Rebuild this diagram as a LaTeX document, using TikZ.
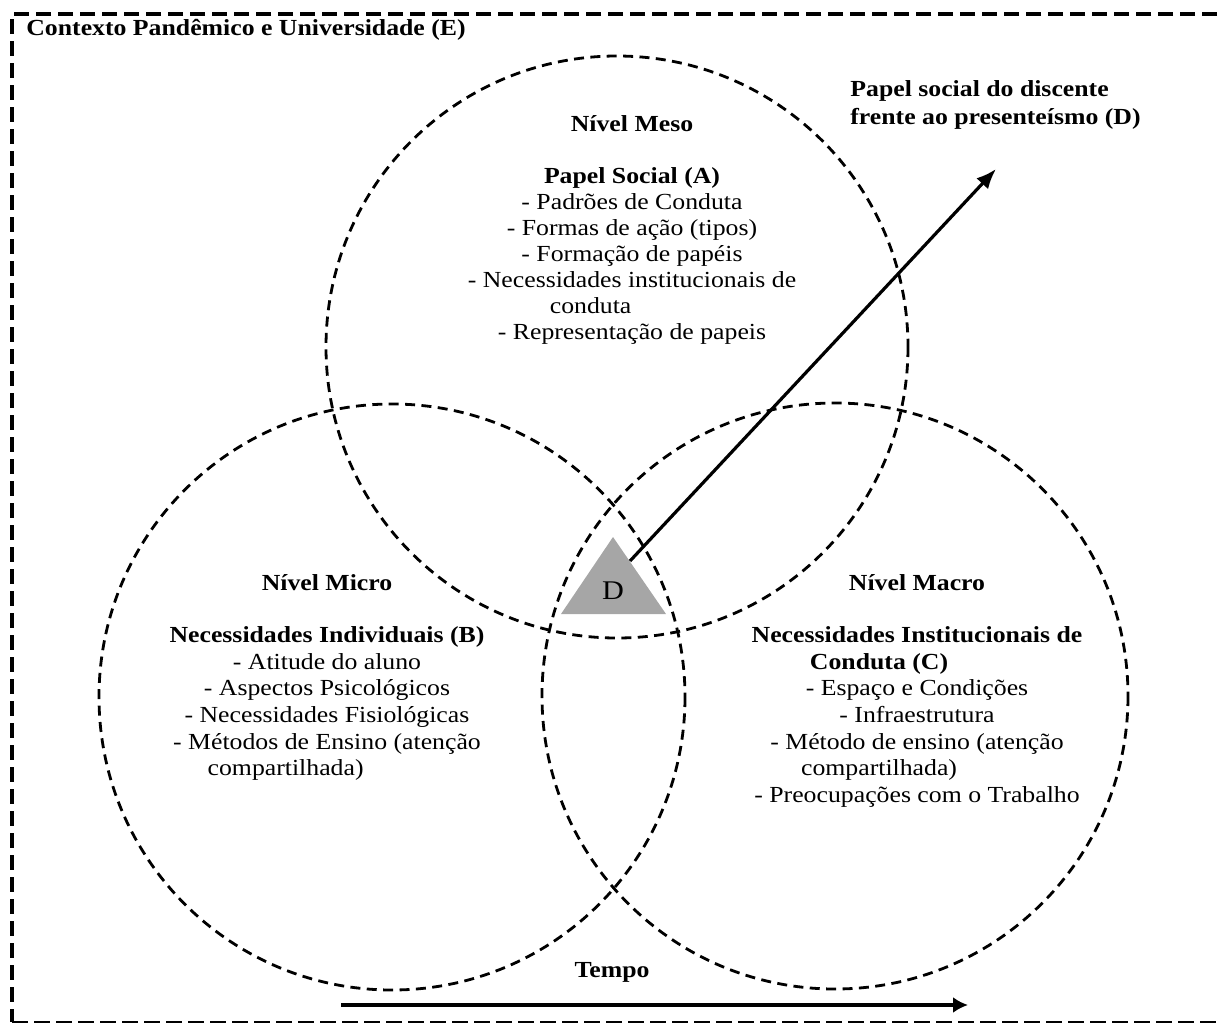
\documentclass[tikz,border=0pt]{standalone}
\usepackage{fontspec}
\setmainfont{Liberation Serif}[FakeStretch=1.12]
\usetikzlibrary{arrows.meta}
\definecolor{cinzaD}{HTML}{A6A6A6}
\tikzset{
    nivel/.style={line width=1.4pt, dash pattern=on 5pt off 3.2pt},
    moldura/.style={line width=2pt, dash pattern=on 7.5pt off 3.5pt},
    texto/.style={inner sep=0pt, font=\fontsize{11.5}{13}\selectfont},
    bloco/.style={texto, anchor=base},
    blocobaixo/.style={bloco, font=\fontsize{11.5}{13.3}\selectfont},
    seta/.style={line width=1.6pt, -{Latex[length=10pt,width=8pt]}},
    setatempo/.style={line width=2pt, -{Latex[length=7.5pt,width=8pt]}},
}

\begin{document}
\begin{tikzpicture}[x=0.5pt, y=-0.5pt]
    \useasboundingbox (0,0) rectangle (1221,1023);
    % moldura (E)
    \draw[moldura] (1217,14) -- (12,14) -- (12,1022);
    \draw[line width=0.75pt, dash pattern=on 8pt off 3pt] (12,1022) -- (1221,1022);
    \node[texto, anchor=base west] (contexto) at (26,35) {\textbf{Contexto Pandêmico e Universidade (E)}};

    % os tres niveis
    \draw[nivel] (617,347) circle [radius=291];
    \draw[nivel] (392,697) circle [radius=293];
    \draw[nivel] (835,696) circle [radius=293];

    \node[bloco] (meso) at (632,131) {\begin{tabular}[t]{@{}c@{}}
        \textbf{Nível Meso}\\[13pt]
        \textbf{Papel Social (A)}\\
        - Padrões de Conduta\\
        - Formas de ação (tipos)\\
        - Formação de papéis\\
        - Necessidades institucionais de\\
        conduta\hspace*{3.6em}\\
        - Representação de papeis
    \end{tabular}};
    \node[blocobaixo] (micro) at (327,590) {\begin{tabular}[t]{@{}c@{}}
        \textbf{Nível Micro}\\[13pt]
        \textbf{Necessidades Individuais (B)}\\
        - Atitude do aluno\\
        - Aspectos Psicológicos\\
        - Necessidades Fisiológicas\\
        - Métodos de Ensino (atenção\\
        compartilhada)\hspace*{3.6em}
    \end{tabular}};
    \node[blocobaixo] (macro) at (917,590) {\begin{tabular}[t]{@{}c@{}}
        \textbf{Nível Macro}\\[13pt]
        \textbf{Necessidades Institucionais de}\\
        \textbf{Conduta (C)}\hspace*{3.3em}\\
        - Espaço e Condições\\
        - Infraestrutura\\
        - Método de ensino (atenção\\
        compartilhada)\hspace*{3.3em}\\
        - Preocupações com o Trabalho
    \end{tabular}};

    % D
    \fill[cinzaD] (613,537) -- (666,614) -- (561,614) -- cycle;
    \node[texto, font=\fontsize{13.5}{15}\selectfont] (dcentro) at (613,591) {D};
    \coordinate (dsaida) at (630,561);
    \coordinate (dponta) at (996,169);
    \draw[seta] (dsaida) -- (dponta);
    \node[texto, anchor=base west] (papel) at (850,96) {\begin{tabular}[t]{@{}l@{}}
        \textbf{Papel social do discente}\\[1pt]
        \textbf{frente ao presenteísmo (D)}
    \end{tabular}};

    % tempo
    \node[bloco] (tempo) at (612,977) {\textbf{Tempo}};
    \coordinate (t0) at (341,1005);
    \coordinate (t1) at (968,1005);
    \draw[setatempo] (t0) -- (t1);
\end{tikzpicture}
\end{document}
